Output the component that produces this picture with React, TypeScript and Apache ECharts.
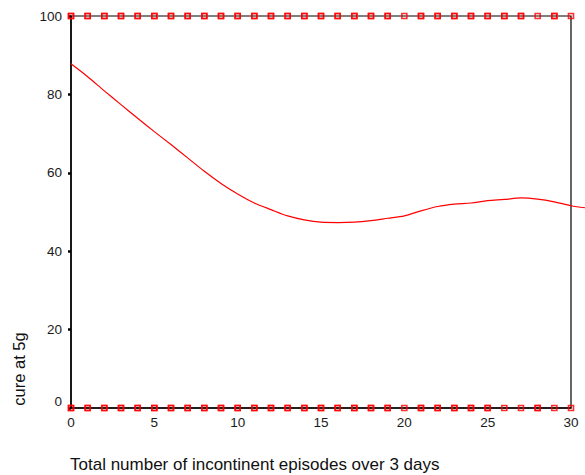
import React, { useEffect, useRef } from "react";
import * as echarts from "echarts";

// x positions of observations (episodes) 0..30
const xValues: number[] = Array.from({ length: 31 }, (_, i) => i);
// number of observations with cure = 100 (top row) at each x
const topCounts: number[] = [2,2,2,2,2,2,2,2,2,2,2,2,2,2,2,2,2,2,2,2,1,2,2,2,2,2,2,2,1,2,1];
// number of observations with cure = 0 (bottom row) at each x
const bottomCounts: number[] = [2,2,2,2,2,2,2,2,2,2,2,2,2,2,2,2,2,2,2,2,1,2,2,2,2,2,1,1,2,1,1];
// lowess smooth
const smoothX: number[] = [0,1,2,3,4,5,6,7,8,9,10,11,12,13,14,15,16,17,18,19,20,21,22,23,24,25,26,27,28,29,30,31];
const smoothY: number[] = [87.8,84.5,80.9,77.4,73.9,70.5,67.2,63.8,60.4,57.3,54.6,52.3,50.6,49.0,48.0,47.4,47.3,47.4,47.8,48.4,49.0,50.3,51.4,52.0,52.3,52.9,53.2,53.6,53.3,52.6,51.6,51.0];
const yTicks: number[] = [0, 20, 40, 60, 80, 100];

const xTitle = "Total number of incontinent episodes over 3 days";
const yTitle = "cure at 5g";

const FONT = "'Liberation Sans', Arial, sans-serif";

export default function App() {
  const ref = useRef<HTMLDivElement>(null);
  useEffect(() => {
    if (!ref.current) return;
    const chart = echarts.init(ref.current, null, { renderer: "svg" });
    const points: number[][] = [];
    xValues.forEach((x, i) => {
      for (let k = 0; k < topCounts[i]; k++) points.push([x, 100]);
      for (let k = 0; k < bottomCounts[i]; k++) points.push([x, 0]);
    });
    // the smooth continues past the frame up to the picture's right edge
    const plotW = 585 - 71 - 14;
    const extMax = 30 * (plotW + 14) / plotW;
    chart.setOption({
      animation: false,
      grid: [
        {
          left: 71,
          right: 14,
          top: 16,
          bottom: 67,
          show: true,
          borderColor: "#000",
          borderWidth: 1.2,
          backgroundColor: "transparent",
        },
        { left: 71, right: 0, top: 16, bottom: 67, show: false },
      ],
      xAxis: [
        {
          type: "value",
          min: 0,
          max: 30,
          interval: 5,
          splitLine: { show: false },
          axisLine: { show: true, lineStyle: { color: "#000", width: 1.5 } },
          axisTick: { show: false },
          axisLabel: { color: "#1a1a1a", fontSize: 13.5, fontFamily: FONT, margin: 7 },
        },
        { type: "value", gridIndex: 1, min: 0, max: extMax, show: false },
      ],
      yAxis: [
        {
          type: "value",
          min: yTicks[0],
          max: yTicks[yTicks.length - 1],
          interval: 20,
          splitLine: { show: false },
          axisLine: { show: true, lineStyle: { color: "#000", width: 1.5 } },
          axisTick: { show: true, length: 3, lineStyle: { color: "#000", width: 2.5 } },
          axisLabel: {
            color: "#1a1a1a",
            fontSize: 13.5,
            fontFamily: FONT,
            margin: 9,
            formatter: (v: number) => (v === 0 ? "{z|0}" : String(v)),
            rich: { z: { fontSize: 13.5, fontFamily: FONT, color: "#1a1a1a", padding: [0, 0, 14, 0] } },
          },
        },
        { type: "value", gridIndex: 1, min: 0, max: 100, show: false },
      ],
      series: [
        {
          type: "line",
          xAxisIndex: 1,
          yAxisIndex: 1,
          data: smoothX.map((x, i) => [x, smoothY[i]]),
          showSymbol: false,
          smooth: 0.3,
          lineStyle: { color: "#ff0000", width: 1.2 },
          z: 3,
        },
        {
          type: "scatter",
          data: points,
          symbol: "rect",
          symbolSize: 5,
          clip: false,
          itemStyle: { color: "rgba(255,255,255,0)", borderColor: "#ff0000", borderWidth: 1.6, opacity: 0.82 },
          z: 4,
        },
      ],
      graphic: [
        {
          type: "text",
          left: 70,
          top: 456,
          style: { text: xTitle, font: `17px ${FONT}`, fill: "#111" },
        },
        {
          type: "text",
          x: 19,
          y: 369,
          rotation: Math.PI / 2,
          style: { text: yTitle, font: `16.5px ${FONT}`, fill: "#111", textAlign: "center", textVerticalAlign: "middle" },
        },
      ],
    });
    return () => chart.dispose();
  }, []);
  return <div ref={ref} style={{ position: "absolute", left: 0, top: 0, width: 585, height: 475 }} />;
}
